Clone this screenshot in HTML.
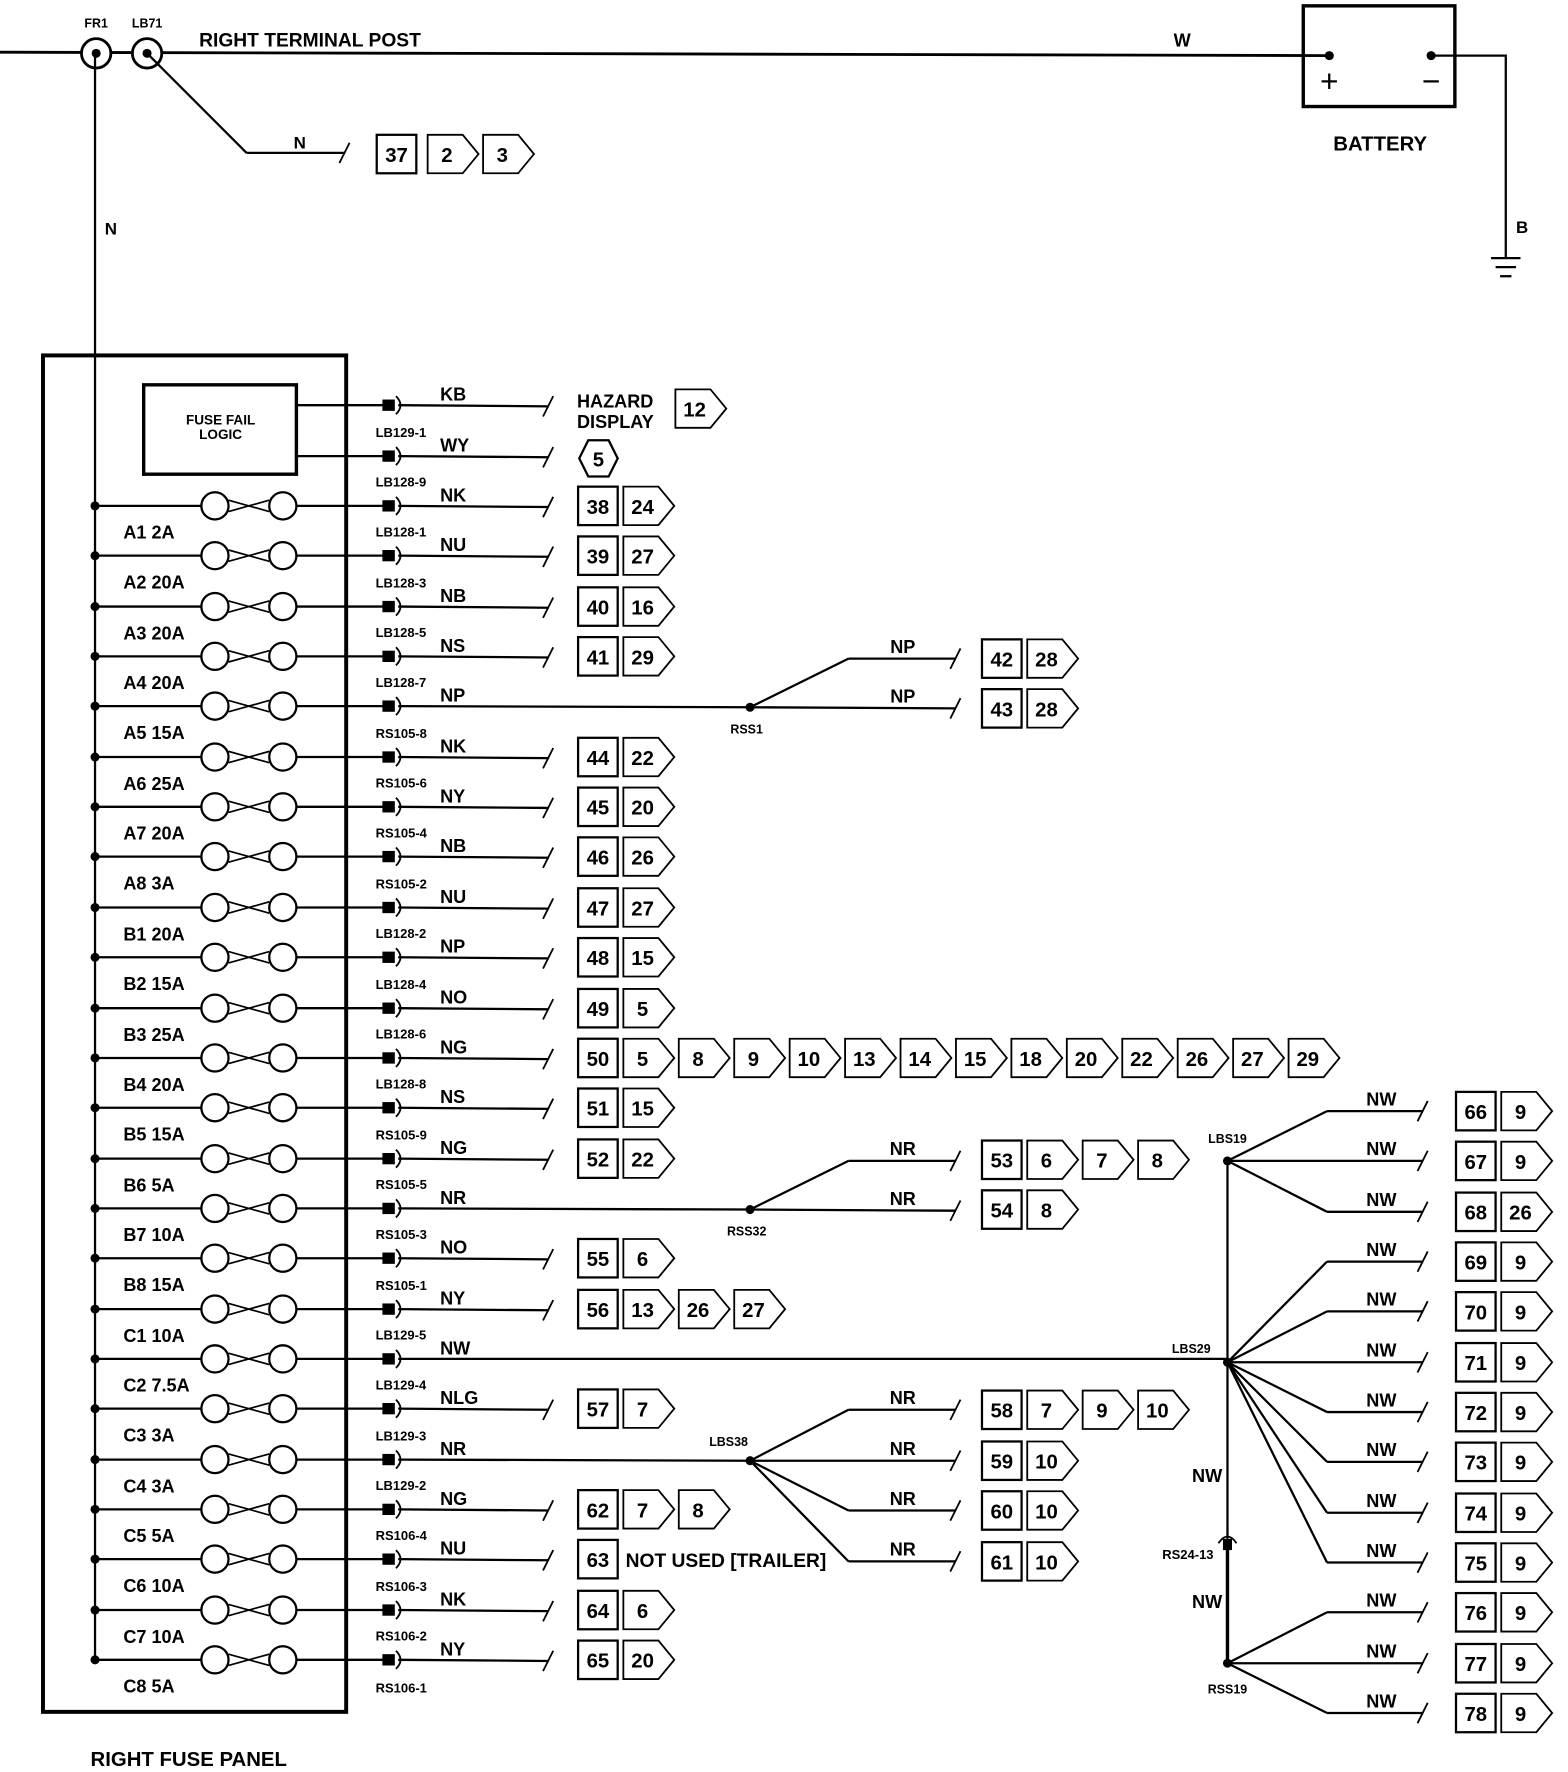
<!DOCTYPE html>
<html><head><meta charset="utf-8"><style>
html,body{margin:0;padding:0;background:#fff}
svg{display:block}
text{font-family:"Liberation Sans",sans-serif;fill:#000}
</style></head><body>
<svg id="s" width="1568" height="1772" viewBox="0 0 1386 1566" xmlns="http://www.w3.org/2000/svg"></svg>
<script>
var o=[];
function L(x1,y1,x2,y2,w){o.push('<line x1="'+x1+'" y1="'+y1+'" x2="'+x2+'" y2="'+y2+'" stroke="#000" stroke-width="'+(w||2)+'"/>');}
function T(x,y,t,s,wt,a){o.push('<text x="'+x+'" y="'+y+'" font-size="'+s+'" font-weight="'+(wt||'normal')+'" text-anchor="'+(a||'start')+'">'+t+'</text>');}
function tick(x,y){L(x-5,y+9,x+4,y-9,1.6);}
function sq(x,y,t){o.push('<rect x="'+x+'" y="'+(y-17)+'" width="35" height="34" fill="#fff" stroke="#000" stroke-width="2"/>');T(x+17.5,y+7,t,18,'bold','middle');}
function ar(x,y,t){o.push('<polygon points="'+x+','+(y-17)+' '+(x+31)+','+(y-17)+' '+(x+45)+','+y+' '+(x+31)+','+(y+17)+' '+x+','+(y+17)+'" fill="#fff" stroke="#000" stroke-width="1.6"/>');T(x+17,y+7,t,18,'bold','middle');}
function chain(x,y,a){sq(x,y,a[0]);var p=x+40;for(var i=1;i<a.length;i++){ar(p,y,a[i]);p+=49;}}
function dot(x,y){o.push('<circle cx="'+x+'" cy="'+y+'" r="4" fill="#000"/>');}
L(0,46,1175,49,2.5);
[[85,'FR1'],[130,'LB71']].forEach(function(c){o.push('<circle cx="'+c[0]+'" cy="47" r="13" fill="#fff" stroke="#000" stroke-width="2.5"/>');dot(c[0],47);T(c[0],24,c[1],11,'bold','middle');});
T(176,41,'RIGHT TERMINAL POST',17,'bold');
T(1045,41,'W',16,'bold','middle');
o.push('<rect x="1152" y="5" width="134" height="89" fill="none" stroke="#000" stroke-width="3"/>');
dot(1175,49);dot(1265,49);T(1175,81,'+',28,'normal','middle');T(1265,81,'−',28,'normal','middle');
T(1220,133,'BATTERY',18,'bold','middle');
L(1265,49,1331,49);L(1331,48,1331,228);L(1318,228,1344,228);L(1322,236,1340,236);L(1326,244,1336,244);
T(1340,206,'B',15,'bold');
L(130,47,218,135);L(218,135,305,135);tick(305,135);T(265,131,'N',15,'bold','middle');
sq(333,136,'37');ar(378,136,'2');ar(427,136,'3');
L(84,47,84,1469);T(98,207,'N',15,'bold','middle');
o.push('<rect x="38" y="314" width="268" height="1199" fill="none" stroke="#000" stroke-width="3.5"/>');
o.push('<rect x="127" y="340" width="135" height="79" fill="none" stroke="#000" stroke-width="3"/>');
T(195,375,'FUSE FAIL',12,'bold','middle');T(195,388,'LOGIC',12,'bold','middle');
T(80,1561,'RIGHT FUSE PANEL',18,'bold');
function conn(y,lbl,wl,end){o.push('<rect x="338" y="'+(y-5)+'" width="11" height="10" fill="#000"/>');o.push('<path d="M350,'+(y-8)+' Q358,'+y+' 350,'+(y+8)+'" fill="none" stroke="#000" stroke-width="1.6"/>');if(lbl)T(332,y-17,lbl,11.5,'bold');T(389,y-4,wl,16,'bold');if(end){L(352,y,end,y+1);tick(end,y+1);}}
L(262,358,340,358);L(262,403,340,403);
conn(358,'','KB',485);conn(403,'LB129-1','WY',485);
T(510,360,'HAZARD',16,'bold');T(510,378,'DISPLAY',16,'bold');ar(597,361,'12');
o.push('<polygon points="520,389 538,389 546,405 538,421 520,421 512,405" fill="#fff" stroke="#000" stroke-width="2"/>');T(529,412,'5',18,'bold','middle');
var rows=[
['LB128-9','NK',[38,24]],['LB128-1','NU',[39,27]],['LB128-3','NB',[40,16]],['LB128-5','NS',[41,29]],
['LB128-7','NP','RSS1'],['RS105-8','NK',[44,22]],['RS105-6','NY',[45,20]],['RS105-4','NB',[46,26]],
['RS105-2','NU',[47,27]],['LB128-2','NP',[48,15]],['LB128-4','NO',[49,5]],
['LB128-6','NG',[50,5,8,9,10,13,14,15,18,20,22,26,27,29]],['LB128-8','NS',[51,15]],['RS105-9','NG',[52,22]],
['RS105-5','NR','RSS32'],['RS105-3','NO',[55,6]],['RS105-1','NY',[56,13,26,27]],['LB129-5','NW','LBS29'],
['LB129-4','NLG',[57,7]],['LB129-3','NR','LBS38'],['LB129-2','NG',[62,7,8]],['RS106-4','NU','63'],
['RS106-3','NK',[64,6]],['RS106-2','NY',[65,20]]];
var fl=['A1 2A','A2 20A','A3 20A','A4 20A','A5 15A','A6 25A','A7 20A','A8 3A','B1 20A','B2 15A','B3 25A','B4 20A','B5 15A','B6 5A','B7 10A','B8 15A','C1 10A','C2 7.5A','C3 3A','C4 3A','C5 5A','C6 10A','C7 10A','C8 5A'];
for(var i=0;i<24;i++){
 var y=Math.round(447+i*44.35),r=rows[i];
 dot(84,y);L(84,y,178,y);L(262,y,340,y);
 o.push('<ellipse cx="190" cy="'+y+'" rx="12" ry="12" fill="#fff" stroke="#000" stroke-width="2"/><ellipse cx="250" cy="'+y+'" rx="12" ry="12" fill="#fff" stroke="#000" stroke-width="2"/>');
 L(202,y-5,238,y+5,1.5);L(202,y+5,238,y-5,1.5);
 T(109,y+29,fl[i],16,'bold');
 if(Array.isArray(r[2])){conn(y,r[0],r[1],485);chain(511,y,r[2].map(String));}
 else if(r[2]=='63'){conn(y,r[0],r[1],485);sq(511,y,'63');T(553,y+7,'NOT USED [TRAILER]',17,'bold');}
 else if(r[2]=='RSS1'||r[2]=='RSS32'){conn(y,r[0],r[1]);var n=r[2];L(352,y,663,y+1);dot(663,y+1);T(660,y+24,n,11,'bold','middle');
   var wl=n=='RSS1'?'NP':'NR';L(663,y+1,750,y-42);L(750,y-42,845,y-42);tick(845,y-42);L(663,y+1,845,y+2);tick(845,y+2);
   T(798,y-47,wl,16,'bold','middle');T(798,y-3,wl,16,'bold','middle');
   if(n=='RSS1'){chain(868,y-42,['42','28']);chain(868,y+2,['43','28']);}
   else{chain(868,y-43,['53','6','7','8']);chain(868,y+1,['54','8']);}}
 else if(r[2]=='LBS38'){conn(y,r[0],r[1]);L(352,y,663,y+1);dot(663,y+1);T(644,y-12,'LBS38',11,'bold','middle');
   var ys=[y-44,y+1,y+45,y+90];ys.forEach(function(yy){L(663,y+1,750,yy);L(750,yy,845,yy);tick(845,yy);T(798,yy-5,'NR',16,'bold','middle');});
   chain(868,ys[0],['58','7','9','10']);chain(868,ys[1],['59','10']);chain(868,ys[2],['60','10']);chain(868,ys[3],['61','10']);}
 else if(r[2]=='LBS29'){conn(y,r[0],r[1]);L(352,y,1085,y);}
}
T(332,1496,'RS106-1',11.5,'bold');
L(1085,1026,1085,1360);L(1085,1368,1085,1470,3);
o.push('<path d="M1077,1364 Q1085,1352 1093,1364" fill="none" stroke="#000" stroke-width="1.6"/><rect x="1081" y="1360" width="8" height="10" fill="#000"/>');
T(1050,1378,'RS24-13',11.5,'bold','middle');T(1067,1310,'NW',16,'bold','middle');T(1067,1421,'NW',16,'bold','middle');
function fan(cx,cy,ys){dot(cx,cy);ys.forEach(function(yy){if(Math.abs(yy-cy)>2){L(cx,cy,1173,yy);L(1173,yy,1258,yy);}else L(cx,cy,1258,yy);tick(1258,yy);T(1221,yy-5,'NW',16,'bold','middle');});}
var R=[982,1026,1071,1115,1159,1204,1248,1292,1337,1381,1425,1470,1514];
fan(1085,1026,R.slice(0,3));fan(1085,1204,R.slice(3,10));fan(1085,1470,R.slice(10));
T(1085,1010,'LBS19',11,'bold','middle');T(1053,1196,'LBS29',11,'bold','middle');T(1085,1497,'RSS19',11,'bold','middle');
var bx=[['66','9'],['67','9'],['68','26'],['69','9'],['70','9'],['71','9'],['72','9'],['73','9'],['74','9'],['75','9'],['76','9'],['77','9'],['78','9']];
bx.forEach(function(b,k){sq(1287,R[k],b[0]);ar(1327,R[k],b[1]);});
document.getElementById('s').innerHTML=o.join('');
</script>
</body></html>
